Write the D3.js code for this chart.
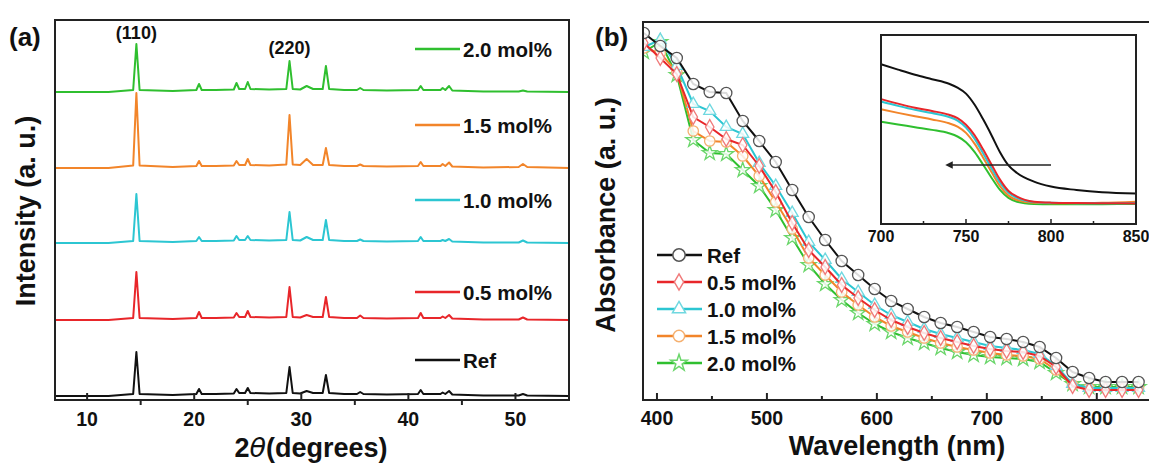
<!DOCTYPE html>
<html>

<head>
	<meta charset="utf-8">
	<script src="https://cdn.jsdelivr.net/npm/d3@7"></script>
	<style>
		body {
			margin: 0;
			background: #fff;
		}

		text {
			font-family: "Liberation Sans", Arial, sans-serif;
			font-weight: bold;
			fill: #111;
		}

		.frame {
			fill: none;
			stroke: #222;
			stroke-width: 2;
		}
	</style>
</head>

<body>
	<svg width="1149" height="465"></svg>
	<script>

		// ---- panel (a): XRD ----
		var seriesNames = ["Ref", "0.5 mol%", "1.0 mol%", "1.5 mol%", "2.0 mol%"];
		var seriesColors = ["#111111", "#e8262a", "#2cc6d2", "#f2852a", "#2fbf2f"];
		var markerColors = ["#555555", "#f07a7a", "#6fd8e0", "#f5b070", "#6ad66a"];

		var twoTheta = [7, 12, 14.3, 14.6, 14.9, 18, 20.2, 20.45, 20.7, 22, 23.7, 23.95, 24.2, 24.75, 25.0, 25.25,
			27, 28.6, 28.9, 29.2, 29.9, 30.5, 31.1, 32.0, 32.3, 32.6, 34, 35.2, 35.5, 35.8, 38, 40.9, 41.15, 41.4,
			43.0, 43.2, 43.45, 43.8, 44.1, 47, 50.3, 50.7, 51.1, 55];

		// stacking offsets of the patterns
		var xrdOffset = [4, 80, 157, 232, 308];

		var xrdRef = [0, 0, 2, 44, 2, 1, 2, 7, 2, 2, 2.5, 7, 3, 3, 8, 3, 2.5, 3, 29, 3, 2.5, 5, 3, 3, 21, 3, 2, 2, 4, 2, 1.5, 2, 6, 2, 2, 3.5, 2, 5, 1.5, 0.5, 0.5, 2, 0.5, 0];
		var xrd05 = [0, 0, 2, 48, 2, 1, 2, 8, 2, 2, 2.5, 7, 3, 3, 9, 3, 2.5, 3, 33, 3, 2.5, 5, 3, 3, 23, 3, 2, 2, 4.5, 2, 1.5, 2, 7, 2, 2, 3.5, 2, 5, 1.5, 0.5, 0.5, 2.5, 0.5, 0];
		var xrd10 = [0, 0, 2, 49, 2, 1, 2, 6, 2, 2, 2.5, 7, 3, 3, 7, 3, 2.5, 3, 31, 3, 2.5, 6, 3, 3, 23, 3, 2, 2, 3.5, 2, 1.5, 2, 6, 2, 2, 3, 2, 4, 1.5, 0.5, 0.5, 2.5, 0.5, 0];
		var xrd15 = [0, 0, 2.5, 75, 2.5, 1, 2, 7, 2, 2, 2.5, 7, 3, 3, 9, 3, 2.5, 3.5, 53, 3.5, 3, 9, 3, 3, 20, 3, 2, 2, 3.5, 2, 1.5, 2, 6, 2, 2, 4, 2, 5.5, 1.5, 0.5, 1, 4, 1, 0];
		var xrd20 = [0, 0, 2, 48, 2, 1, 2, 8, 2, 2, 2.5, 9, 3, 3, 10, 3, 2.5, 3, 31, 3, 2.5, 6, 3, 3, 26, 3, 2, 2, 4, 2, 1.5, 2, 6, 2, 2, 4, 2, 6, 1.5, 0.5, 0.5, 1.5, 0.5, 0];
		var xrdData = [xrdRef, xrd05, xrd10, xrd15, xrd20];

		var xrdTicks = [10, 20, 30, 40, 50];
		var xrdMinor = [15, 25, 35, 45];
		var xrdLegendY = [360, 292, 200, 125, 49]; // legend rows, Ref .. 2.0
		var peakLabels = ["(110)", "(220)"];
		var peakLabelPos = [14.6, 28.9];

		// ---- panel (b): absorbance ----
		var wavelength = [388, 403, 418, 433, 448, 463, 478, 493, 508, 523, 538, 553, 568, 583, 598, 613, 628, 643,
			658, 673, 688, 703, 718, 733, 748, 763, 778, 793, 808, 823, 838];

		var absRef = [3.67, 3.54, 3.42, 3.16, 3.08, 3.07, 2.79, 2.59, 2.38, 2.10, 1.83, 1.60, 1.39, 1.25, 1.11, 0.99, 0.91, 0.83, 0.77, 0.73, 0.68, 0.63, 0.61, 0.58, 0.53, 0.42, 0.28, 0.22, 0.18, 0.18, 0.18];
		var abs05 = [3.57, 3.42, 3.26, 2.83, 2.73, 2.61, 2.55, 2.34, 2.08, 1.77, 1.50, 1.33, 1.15, 1.02, 0.90, 0.80, 0.73, 0.67, 0.62, 0.58, 0.54, 0.51, 0.49, 0.48, 0.44, 0.33, 0.14, 0.10, 0.10, 0.10, 0.10];
		var abs10 = [3.53, 3.60, 3.34, 2.96, 2.89, 2.73, 2.66, 2.37, 2.14, 1.87, 1.58, 1.40, 1.21, 1.08, 0.95, 0.85, 0.78, 0.71, 0.66, 0.62, 0.58, 0.54, 0.52, 0.50, 0.46, 0.34, 0.16, 0.12, 0.12, 0.12, 0.12];
		var abs15 = [3.52, 3.47, 3.28, 2.69, 2.59, 2.58, 2.44, 2.24, 1.98, 1.71, 1.42, 1.25, 1.08, 0.95, 0.83, 0.74, 0.68, 0.62, 0.57, 0.53, 0.50, 0.47, 0.45, 0.44, 0.41, 0.30, 0.15, 0.12, 0.12, 0.12, 0.12];
		var abs20 = [3.48, 3.58, 3.25, 2.60, 2.47, 2.46, 2.30, 2.14, 1.90, 1.62, 1.35, 1.16, 1.00, 0.87, 0.76, 0.68, 0.62, 0.57, 0.52, 0.48, 0.45, 0.43, 0.42, 0.41, 0.38, 0.27, 0.16, 0.13, 0.13, 0.13, 0.13];
		var absData = [absRef, abs05, abs10, abs15, abs20];

		var absTicks = [400, 500, 600, 700, 800];
		var absMinor = [450, 550, 650, 750, 850];

		// inset: band edge zoom
		var insetWl = [700, 710, 720, 730, 740, 745, 750, 755, 760, 765, 770, 775, 780, 790, 800, 815, 830, 850];
		var insRef = [0.845, 0.817, 0.790, 0.766, 0.742, 0.722, 0.690, 0.632, 0.555, 0.470, 0.380, 0.310, 0.270, 0.224, 0.198, 0.180, 0.168, 0.162];
		var ins05 = [0.661, 0.637, 0.615, 0.598, 0.578, 0.560, 0.525, 0.470, 0.395, 0.315, 0.235, 0.175, 0.145, 0.118, 0.113, 0.111, 0.110, 0.109];
		var ins10 = [0.648, 0.625, 0.604, 0.587, 0.566, 0.547, 0.510, 0.452, 0.375, 0.295, 0.218, 0.165, 0.138, 0.116, 0.112, 0.110, 0.110, 0.110];
		var ins15 = [0.607, 0.588, 0.570, 0.553, 0.533, 0.515, 0.482, 0.425, 0.352, 0.275, 0.200, 0.150, 0.127, 0.112, 0.110, 0.110, 0.112, 0.118];
		var ins20 = [0.541, 0.527, 0.512, 0.498, 0.480, 0.463, 0.433, 0.382, 0.315, 0.245, 0.180, 0.138, 0.118, 0.106, 0.104, 0.104, 0.105, 0.106];
		var insetData = [insRef, ins05, ins10, ins15, ins20];
		var insetTicks = [700, 750, 800, 850];
		var insetMinor = [725, 775, 825];
		var arrowWl = [800, 740];
		var arrowY = 0.312;

		var svg = d3.select("svg");

		// ================= panel (a) =================
		var a = { left: 55, right: 569, top: 20, bottom: 400 };
		var xA = d3.scaleLinear().domain([7, 55]).range([a.left, a.right]);
		var yA = d3.scaleLinear().domain([0, 380]).range([a.bottom, a.top]);

		var lineA = d3.line()
			.x((d, i) => xA(twoTheta[i]))
			.y(d => yA(d));

		var gA = svg.append("g");
		xrdData.forEach((vals, s) => {
			gA.append("path")
				.datum(vals.map(v => v + xrdOffset[s]))
				.attr("d", lineA)
				.attr("fill", "none")
				.attr("stroke", seriesColors[s])
				.attr("stroke-width", 2)
				.attr("stroke-linejoin", "round");
		});

		gA.append("rect")
			.attr("class", "frame")
			.attr("x", a.left).attr("y", a.top)
			.attr("width", a.right - a.left).attr("height", a.bottom - a.top);

		gA.selectAll(".tickA").data(xrdTicks).enter().append("line")
			.attr("x1", d => xA(d)).attr("x2", d => xA(d))
			.attr("y1", a.bottom).attr("y2", a.bottom - 7)
			.attr("stroke", "#222").attr("stroke-width", 2);
		gA.selectAll(".minorA").data(xrdMinor).enter().append("line")
			.attr("x1", d => xA(d)).attr("x2", d => xA(d))
			.attr("y1", a.bottom).attr("y2", a.bottom + 5)
			.attr("stroke", "#222").attr("stroke-width", 2);
		gA.selectAll(".tlabA").data(xrdTicks).enter().append("text")
			.attr("x", d => xA(d)).attr("y", 426)
			.attr("text-anchor", "middle")
			.style("font-size", "19.5px")
			.text(d => d);

		var xt = gA.append("text")
			.attr("x", 311).attr("y", 457)
			.attr("text-anchor", "middle")
			.style("font-size", "27px");
		xt.append("tspan").text("2");
		xt.append("tspan").style("font-style", "italic").style("font-family", "'DejaVu Sans', sans-serif").style("font-weight", "normal").text("θ");
		xt.append("tspan").text("(degrees)");

		gA.append("text")
			.attr("transform", "translate(35,211) rotate(-90)")
			.attr("text-anchor", "middle")
			.style("font-size", "27px")
			.text("Intensity (a. u.)");

		gA.append("text").attr("x", 9).attr("y", 46).style("font-size", "26px").text("(a)");

		gA.selectAll(".pk").data(peakLabels).enter().append("text")
			.attr("x", (d, i) => xA(peakLabelPos[i]))
			.attr("y", (d, i) => i === 0 ? 39 : 54)
			.attr("text-anchor", "middle")
			.style("font-size", "18px")
			.text(d => d);

		// legend (a)
		seriesNames.forEach((name, s) => {
			var ly = xrdLegendY[s];
			gA.append("line")
				.attr("x1", 415).attr("x2", 460)
				.attr("y1", ly).attr("y2", ly)
				.attr("stroke", seriesColors[s]).attr("stroke-width", 2.5);
			gA.append("text")
				.attr("x", 463).attr("y", ly + 7.5)
				.style("font-size", "20.5px")
				.text(name);
		});

		// ================= panel (b) =================
		var b = { left: 643, right: 1160, top: 22, bottom: 400 };
		var xB = d3.scaleLinear().domain([387.3, 857.5]).range([b.left, b.right]);
		var yB = d3.scaleLinear().domain([0, 3.78]).range([b.bottom, b.top]);

		var lineB = d3.line()
			.x((d, i) => xB(wavelength[i]))
			.y(d => yB(d));

		var symbols = [d3.symbolCircle, d3.symbolDiamond, d3.symbolTriangle, d3.symbolCircle, d3.symbolStar];
		var symSize = [100, 62, 62, 85, 70];

		var gB = svg.append("g");
		gB.append("clipPath").attr("id", "clipB").append("rect")
			.attr("x", b.left).attr("y", b.top - 6)
			.attr("width", 1149 - b.left).attr("height", b.bottom - b.top + 6);

		var plotB = gB.append("g").attr("clip-path", "url(#clipB)");
		// draw 2.0 first so Ref ends on top
		[4, 3, 2, 1, 0].forEach(s => {
			var vals = absData[s];
			plotB.append("path")
				.datum(vals)
				.attr("d", lineB)
				.attr("fill", "none")
				.attr("stroke", seriesColors[s])
				.attr("stroke-width", 2);
			plotB.selectAll(".m" + s).data(vals).enter().append("path")
				.attr("transform", (d, i) => "translate(" + xB(wavelength[i]) + "," + yB(d) + ")")
				.attr("d", d3.symbol().type(symbols[s]).size(symSize[s]))
				.attr("fill", "#fff")
				.attr("fill-opacity", 0.85)
				.attr("stroke", markerColors[s])
				.attr("stroke-width", 1.3);
		});

		gB.append("path")
			.attr("class", "frame")
			.attr("d", "M" + (b.right + 5) + "," + b.top + "H" + b.left + "V" + b.bottom + "H" + (b.right + 5));

		gB.selectAll(".tickB").data(absTicks).enter().append("line")
			.attr("x1", d => xB(d)).attr("x2", d => xB(d))
			.attr("y1", b.bottom).attr("y2", b.bottom - 7)
			.attr("stroke", "#222").attr("stroke-width", 2);
		gB.selectAll(".minorB").data(absMinor).enter().append("line")
			.attr("x1", d => xB(d)).attr("x2", d => xB(d))
			.attr("y1", b.bottom).attr("y2", b.bottom - 4)
			.attr("stroke", "#222").attr("stroke-width", 2);
		gB.selectAll(".tlabB").data(absTicks).enter().append("text")
			.attr("x", d => xB(d)).attr("y", 425)
			.attr("text-anchor", "middle")
			.style("font-size", "19.5px")
			.text(d => d);

		gB.append("text")
			.attr("x", 897).attr("y", 455)
			.attr("text-anchor", "middle")
			.style("font-size", "27px")
			.text("Wavelength (nm)");

		gB.append("text")
			.attr("transform", "translate(615,215) rotate(-90)")
			.attr("text-anchor", "middle")
			.style("font-size", "27px")
			.text("Absorbance (a. u.)");

		gB.append("text").attr("x", 595).attr("y", 46).style("font-size", "26px").text("(b)");

		// legend (b)
		var legBY = [255, 282, 309, 336, 363];
		seriesNames.forEach((name, s) => {
			var ly = legBY[s];
			gB.append("line")
				.attr("x1", 657).attr("x2", 702)
				.attr("y1", ly).attr("y2", ly)
				.attr("stroke", seriesColors[s]).attr("stroke-width", 2.5);
			gB.append("path")
				.attr("transform", "translate(679," + ly + ")")
				.attr("d", d3.symbol().type(symbols[s]).size(symSize[s] * 1.2))
				.attr("fill", "#fff")
				.attr("stroke", markerColors[s])
				.attr("stroke-width", 1.5);
			gB.append("text")
				.attr("x", 707).attr("y", ly + 7.5)
				.style("font-size", "20.5px")
				.text(name);
		});

		// inset
		var ins = { left: 881, right: 1136, top: 35, bottom: 224 };
		var xI = d3.scaleLinear().domain([700, 850]).range([ins.left, ins.right]);
		var yI = d3.scaleLinear().domain([0, 1]).range([ins.bottom, ins.top]);
		var lineI = d3.line()
			.curve(d3.curveMonotoneX)
			.x((d, i) => xI(insetWl[i]))
			.y(d => yI(d));

		var gI = svg.append("g");
		gI.append("rect")
			.attr("x", ins.left).attr("y", ins.top)
			.attr("width", ins.right - ins.left).attr("height", ins.bottom - ins.top)
			.attr("fill", "#fff");
		[4, 3, 2, 1, 0].forEach(s => {
			gI.append("path")
				.datum(insetData[s])
				.attr("d", lineI)
				.attr("fill", "none")
				.attr("stroke", seriesColors[s])
				.attr("stroke-width", 2);
		});
		gI.append("rect")
			.attr("class", "frame")
			.attr("x", ins.left).attr("y", ins.top)
			.attr("width", ins.right - ins.left).attr("height", ins.bottom - ins.top);
		gI.selectAll(".tickI").data(insetTicks).enter().append("line")
			.attr("x1", d => xI(d)).attr("x2", d => xI(d))
			.attr("y1", ins.bottom).attr("y2", ins.bottom - 5)
			.attr("stroke", "#222").attr("stroke-width", 1.5);
		gI.selectAll(".minorI").data(insetMinor).enter().append("line")
			.attr("x1", d => xI(d)).attr("x2", d => xI(d))
			.attr("y1", ins.bottom).attr("y2", ins.bottom - 3)
			.attr("stroke", "#222").attr("stroke-width", 1.5);
		gI.selectAll(".tlabI").data(insetTicks).enter().append("text")
			.attr("x", d => xI(d)).attr("y", 242)
			.attr("text-anchor", "middle")
			.style("font-size", "16px")
			.text(d => d);

		gI.append("defs").append("marker")
			.attr("id", "arrowhead")
			.attr("viewBox", "0 0 10 10")
			.attr("refX", 5).attr("refY", 5)
			.attr("markerWidth", 5).attr("markerHeight", 5)
			.attr("orient", "auto")
			.append("path").attr("d", "M0,0L10,5L0,10z").attr("fill", "#222");
		gI.append("line")
			.attr("x1", xI(arrowWl[0])).attr("x2", xI(arrowWl[1]))
			.attr("y1", yI(arrowY)).attr("y2", yI(arrowY))
			.attr("stroke", "#222").attr("stroke-width", 1.5)
			.attr("marker-end", "url(#arrowhead)");

	</script>
</body>

</html>
